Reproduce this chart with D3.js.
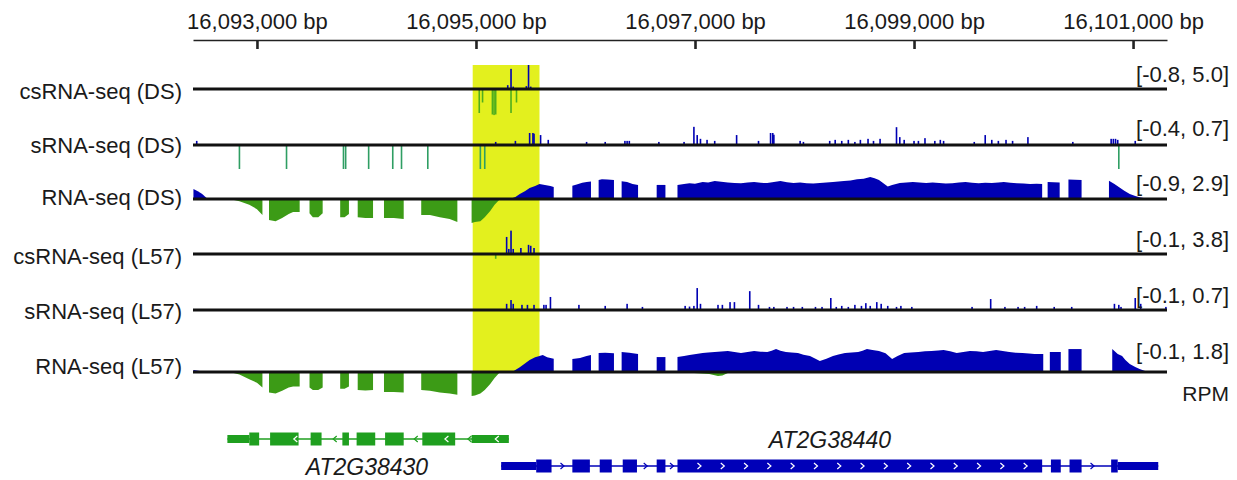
<!DOCTYPE html>
<html>
<head>
<meta charset="utf-8">
<script src="https://cdn.jsdelivr.net/npm/d3@7"></script>
<style>
body { margin: 0; background: #fff; }
text { font-family: "Liberation Sans", Arial, Helvetica, sans-serif; fill: #1a1a1a; }
</style>
</head>
<body>
<script>
// ---- data ----
var trackNames = ["csRNA-seq (DS)", "sRNA-seq (DS)", "RNA-seq (DS)", "csRNA-seq (L57)", "sRNA-seq (L57)", "RNA-seq (L57)"];
var trackRanges = [[-0.8, 5.0], [-0.4, 0.7], [-0.9, 2.9], [-0.1, 3.8], [-0.1, 0.7], [-0.1, 1.8]];
var tickValues = [16093000, 16095000, 16097000, 16099000, 16101000];
var highlight = [16094970, 16095580];

// spike tracks: [position, RPM]
var csDSplus = [[16095290, 0.8], [16095320, 4.2], [16095340, 0.5], [16095460, 0.6], [16095480, 5.0], [16095500, 0.5]];
var csDSminus = [[16095030, -0.8], [16095060, -0.45], [16095150, -0.85], [16095165, -0.87], [16095180, -0.85], [16095320, -0.8], [16095370, -0.45]];

var sDSplus = [[16092450, 0.12], [16095180, 0.09], [16095360, 0.12], [16095490, 0.35], [16095520, 0.35], [16095530, 0.33],
  [16095590, 0.29], [16095660, 0.15], [16096010, 0.09], [16096180, 0.09], [16096360, 0.12], [16096380, 0.12], [16096400, 0.12],
  [16096670, 0.09], [16096900, 0.09], [16096990, 0.53], [16097020, 0.29], [16097050, 0.18], [16097110, 0.15], [16097180, 0.12],
  [16097380, 0.29], [16097580, 0.12], [16097690, 0.35], [16097710, 0.35], [16097720, 0.3], [16097960, 0.12], [16097990, 0.09],
  [16098230, 0.12], [16098280, 0.15], [16098340, 0.12], [16098400, 0.15], [16098460, 0.09], [16098510, 0.15], [16098580, 0.18],
  [16098630, 0.12], [16098690, 0.18], [16098840, 0.52], [16098870, 0.23], [16098910, 0.15], [16099000, 0.12], [16099040, 0.12],
  [16099100, 0.2], [16099190, 0.12], [16099240, 0.15], [16099270, 0.12], [16099550, 0.09], [16099650, 0.29], [16099710, 0.15],
  [16099770, 0.12], [16099840, 0.15], [16099900, 0.12], [16100040, 0.23], [16100450, 0.09], [16100800, 0.18], [16100820, 0.18],
  [16100840, 0.18], [16100860, 0.15], [16101020, 0.12]];
var sDSminus = [[16092840, -0.4], [16093270, -0.4], [16093790, -0.4], [16093810, -0.4], [16094020, -0.4], [16094240, -0.4],
  [16094320, -0.4], [16094560, -0.4], [16095040, -0.4], [16095080, -0.4], [16100870, -0.4]];

var csL57plus = [[16095280, 2.7], [16095300, 0.8], [16095320, 3.7], [16095340, 0.8], [16095410, 0.95], [16095480, 1.45],
  [16095500, 1.3], [16095530, 0.95]];
var csL57minus = [[16095180, -0.02]];

var sL57plus = [[16095280, 0.18], [16095320, 0.29], [16095340, 0.18], [16095420, 0.15], [16095470, 0.15], [16095530, 0.15],
  [16095620, 0.15], [16095640, 0.15], [16095680, 0.38], [16095940, 0.15], [16096180, 0.12], [16096380, 0.18], [16096520, 0.09],
  [16096910, 0.12], [16096950, 0.1], [16096990, 0.12], [16097020, 0.64], [16097050, 0.18], [16097210, 0.15], [16097250, 0.15],
  [16097320, 0.23], [16097360, 0.23], [16097500, 0.55], [16097580, 0.15], [16097680, 0.09], [16097720, 0.09], [16097840, 0.09],
  [16097900, 0.09], [16097980, 0.09], [16098100, 0.09], [16098160, 0.09], [16098240, 0.35], [16098290, 0.09], [16098340, 0.12],
  [16098400, 0.09], [16098460, 0.15], [16098520, 0.12], [16098560, 0.2], [16098600, 0.12], [16098660, 0.23], [16098700, 0.18],
  [16098760, 0.12], [16098840, 0.09], [16098880, 0.12], [16098980, 0.09], [16099530, 0.09], [16099700, 0.32], [16099830, 0.09],
  [16099950, 0.09], [16100010, 0.09], [16100120, 0.12], [16100280, 0.09], [16100440, 0.09], [16100830, 0.18], [16100870, 0.15],
  [16100890, 0.09], [16101020, 0.35], [16101070, 0.18], [16101300, 0.09]];

// coverage tracks: blocks of [position, RPM]
var rnaDSplus = [
  [[16092420, 1.2], [16092460, 0.95], [16092500, 0.6], [16092550, 0]],
  [[16095310, 0], [16095360, 0.24], [16095400, 0.6], [16095450, 0.97], [16095490, 1.33], [16095540, 1.57], [16095580, 1.81],
   [16095630, 1.69], [16095680, 1.57], [16095710, 1.45]],
  [[16095880, 1.6], [16095920, 1.75], [16095970, 1.95], [16096010, 2.05], [16096050, 2.1]],
  [[16096120, 2.3], [16096150, 2.4], [16096200, 2.35], [16096260, 2.3]],
  [[16096330, 2.15], [16096380, 2.05], [16096430, 1.8], [16096480, 1.7]],
  [[16096650, 1.7], [16096730, 1.7]],
  [[16096840, 1.69], [16096900, 1.8], [16096950, 1.9], [16097000, 1.85], [16097070, 2.05], [16097120, 1.98], [16097180, 2.17],
   [16097240, 2.08], [16097300, 2.0], [16097360, 1.92], [16097420, 1.9], [16097480, 2.0], [16097540, 2.05], [16097600, 1.95],
   [16097660, 1.93], [16097720, 2.05], [16097780, 2.17], [16097840, 2.02], [16097900, 1.93], [16097960, 1.98], [16098020, 1.9],
   [16098080, 1.86], [16098140, 1.93], [16098200, 2.0], [16098260, 2.05], [16098310, 2.1], [16098360, 2.17], [16098420, 2.25],
   [16098480, 2.38], [16098540, 2.45], [16098600, 2.66], [16098640, 2.5], [16098680, 2.3], [16098720, 1.9], [16098760, 1.5],
   [16098800, 1.7], [16098870, 1.93], [16098930, 1.98], [16098990, 2.05], [16099050, 2.0], [16099110, 1.93], [16099170, 1.98],
   [16099230, 1.93], [16099290, 1.88], [16099350, 1.9], [16099410, 1.98], [16099470, 2.05], [16099530, 1.95], [16099590, 1.9],
   [16099650, 1.96], [16099710, 1.93], [16099770, 2.0], [16099820, 2.05], [16099880, 1.95], [16099940, 1.9], [16100000, 1.86],
   [16100060, 1.81], [16100120, 1.85], [16100170, 1.81]],
  [[16100220, 2.05], [16100330, 2.0]],
  [[16100410, 2.35], [16100530, 2.3]],
  [[16100780, 2.2], [16100830, 1.8], [16100880, 1.35], [16100920, 1.0], [16100970, 0.6], [16101020, 0.35], [16101060, 0.2],
   [16101110, 0.1], [16101150, 0]]
];
var rnaDSminus = [
  [[16092750, 0], [16092840, -0.08], [16092930, -0.22], [16093000, -0.38], [16093050, -0.6]],
  [[16093110, -0.79], [16093170, -0.83], [16093230, -0.71], [16093290, -0.56], [16093330, -0.49], [16093390, -0.49]],
  [[16093480, -0.53], [16093510, -0.68], [16093560, -0.68], [16093600, -0.53]],
  [[16093760, -0.68], [16093800, -0.68], [16093840, -0.56]],
  [[16093920, -0.68], [16093990, -0.71], [16094060, -0.71]],
  [[16094160, -0.71], [16094250, -0.71], [16094340, -0.75]],
  [[16094500, -0.6], [16094580, -0.6], [16094670, -0.68], [16094760, -0.75], [16094830, -0.86]],
  [[16094960, -0.9], [16094990, -0.86], [16095040, -0.83], [16095080, -0.68], [16095130, -0.45], [16095170, -0.22], [16095220, 0]]
];

var rnaL57plus = [
  [[16092420, 0.15], [16092480, 0.08], [16092520, 0]],
  [[16095330, 0], [16095400, 0.35], [16095450, 0.65], [16095490, 0.9], [16095540, 1.1], [16095580, 1.2], [16095610, 1.28],
   [16095650, 1.1], [16095710, 1.0]],
  [[16095880, 0.98], [16095950, 1.05], [16096010, 1.2], [16096050, 1.28]],
  [[16096120, 1.42], [16096180, 1.45], [16096260, 1.4]],
  [[16096330, 1.5], [16096400, 1.45], [16096480, 1.35]],
  [[16096650, 1.12], [16096730, 1.12]],
  [[16096840, 1.12], [16096900, 1.2], [16096950, 1.28], [16097010, 1.35], [16097070, 1.42], [16097120, 1.46], [16097180, 1.5],
   [16097240, 1.54], [16097300, 1.58], [16097360, 1.5], [16097420, 1.42], [16097480, 1.5], [16097540, 1.58], [16097600, 1.52],
   [16097660, 1.5], [16097700, 1.6], [16097740, 1.72], [16097780, 1.6], [16097830, 1.5], [16097880, 1.46], [16097940, 1.42],
   [16097990, 1.3], [16098050, 1.2], [16098100, 1.0], [16098140, 0.82], [16098200, 1.0], [16098260, 1.2], [16098310, 1.32],
   [16098370, 1.42], [16098430, 1.46], [16098490, 1.5], [16098530, 1.6], [16098570, 1.72], [16098620, 1.65], [16098680, 1.58],
   [16098740, 1.4], [16098800, 0.98], [16098850, 1.2], [16098910, 1.42], [16098970, 1.46], [16099040, 1.5], [16099100, 1.55],
   [16099160, 1.58], [16099220, 1.62], [16099270, 1.65], [16099330, 1.55], [16099390, 1.42], [16099450, 1.5], [16099510, 1.58],
   [16099570, 1.55], [16099630, 1.5], [16099690, 1.58], [16099750, 1.65], [16099810, 1.58], [16099870, 1.5], [16099930, 1.45],
   [16099990, 1.42], [16100050, 1.38], [16100100, 1.35], [16100180, 1.35]],
  [[16100240, 1.5], [16100340, 1.5]],
  [[16100410, 1.72], [16100530, 1.72]],
  [[16100810, 1.72], [16100860, 1.35], [16100900, 1.2], [16100930, 0.9], [16100970, 0.6], [16101020, 0.38], [16101060, 0.22],
   [16101110, 0.08], [16101150, 0]]
];
var rnaL57minus = [
  [[16092750, 0], [16092840, -0.01], [16092930, -0.03], [16093000, -0.045], [16093050, -0.065]],
  [[16093110, -0.085], [16093170, -0.09], [16093230, -0.078], [16093290, -0.065], [16093330, -0.06], [16093390, -0.06]],
  [[16093480, -0.065], [16093510, -0.075], [16093560, -0.075], [16093600, -0.065]],
  [[16093760, -0.07], [16093800, -0.07], [16093840, -0.06]],
  [[16093920, -0.075], [16093990, -0.077], [16094060, -0.075]],
  [[16094160, -0.083], [16094250, -0.083], [16094340, -0.085]],
  [[16094500, -0.075], [16094580, -0.078], [16094670, -0.085], [16094760, -0.09], [16094830, -0.095]],
  [[16094960, -0.1], [16094990, -0.098], [16095040, -0.09], [16095080, -0.075], [16095130, -0.05], [16095170, -0.025], [16095220, 0]],
  [[16096990, -0.004], [16097130, -0.008], [16097210, -0.017], [16097250, -0.015], [16097300, -0.004]]
];

// gene models: [start, end, kind]
var gene38430 = [[16092730, 16092930, "utr"], [16092930, 16093020, "cds"], [16093120, 16093380, "cds"], [16093490, 16093590, "cds"],
  [16093780, 16093840, "cds"], [16093910, 16094080, "cds"], [16094170, 16094340, "cds"], [16094510, 16094810, "cds"],
  [16094960, 16095300, "utr"]];
var gene38440 = [[16095230, 16095550, "utr"], [16095550, 16095690, "cds"], [16095880, 16096040, "cds"], [16096130, 16096240, "cds"],
  [16096340, 16096470, "cds"], [16096650, 16096730, "cds"], [16096840, 16100170, "cds"], [16100250, 16100340, "cds"],
  [16100420, 16100530, "cds"], [16100800, 16100860, "cds"], [16100860, 16101230, "utr"]];
var arrows38430 = [16093350, 16093710, 16094450, 16094730, 16094940, 16095190];
var arrows38440 = [16095790, 16096550, 16096790, 16100630];

// ---- chart ----
var svgWidth = 1237;
var svgHeight = 480;
var blue = "#0000b3";
var baselines = [89, 145, 199, 254, 310, 372];
var labelY = [91, 145, 197, 256, 311, 366];
var rangeY = [74, 128, 183, 239, 295, 351];
var half = 24;

var svg = d3.select("body").append("svg")
  .attr("width", svgWidth)
  .attr("height", svgHeight);

var x = d3.scaleLinear().domain([16092416, 16101310]).range([193, 1167]);

// highlight box
svg.append("rect")
  .attr("x", x(highlight[0]))
  .attr("width", x(highlight[1]) - x(highlight[0]))
  .attr("y", baselines[0] - half)
  .attr("height", baselines[5] - baselines[0] + half)
  .attr("fill", "#e3f01e");

// ruler on top
var axis = d3.axisTop(x)
  .tickValues(tickValues)
  .tickSizeInner(-9)
  .tickSizeOuter(0)
  .tickPadding(11)
  .tickFormat(d => d3.format(",")(d) + " bp");
var axisG = svg.append("g").attr("transform", "translate(0,40)").call(axis);
axisG.select(".domain").attr("stroke", "#222").attr("stroke-width", 1.6);
axisG.selectAll(".tick line").attr("stroke", "#222").attr("stroke-width", 2.6);
axisG.selectAll(".tick text").attr("font-size", 22).attr("fill", "#1a1a1a")
  .style("font-family", '"Liberation Sans", Arial, sans-serif');

function yFor(i) {
  var r = trackRanges[i];
  return d3.scaleLinear().domain([r[0], 0, r[1]]).range([baselines[i] + half, baselines[i], baselines[i] - half]);
}

function drawSpikes(i, data, color) {
  var y = yFor(i);
  svg.append("g").selectAll("rect").data(data).enter().append("rect")
    .attr("x", d => x(d[0]) - 0.8)
    .attr("width", 1.6)
    .attr("y", d => Math.min(y(d[1]), y(0)))
    .attr("height", d => Math.abs(y(d[1]) - y(0)))
    .attr("fill", color);
}

function drawBlocks(i, blocks, color) {
  var y = yFor(i);
  var area = d3.area()
    .x(d => x(d[0]))
    .y0(y(0))
    .y1(d => y(d[1]));
  svg.append("g").selectAll("path").data(blocks).enter().append("path")
    .attr("d", area)
    .attr("fill", color);
}

drawSpikes(0, csDSplus, blue);
drawSpikes(0, csDSminus, "#4fae1e");
drawSpikes(1, sDSplus, blue);
drawSpikes(1, sDSminus, "#2f9e63");
drawBlocks(2, rnaDSplus, blue);
drawBlocks(2, rnaDSminus, "#3c9b16");
drawSpikes(3, csL57plus, blue);
drawSpikes(3, csL57minus, "#4fae1e");
drawSpikes(4, sL57plus, blue);
drawBlocks(5, rnaL57plus, blue);
drawBlocks(5, rnaL57minus, "#3c9b16");

// baselines, labels
trackNames.forEach(function(name, i) {
  svg.append("line")
    .attr("x1", 193).attr("x2", 1167)
    .attr("y1", baselines[i]).attr("y2", baselines[i])
    .attr("stroke", "#111").attr("stroke-width", 2.8);
  svg.append("text")
    .attr("x", 182).attr("y", labelY[i])
    .attr("text-anchor", "end")
    .attr("dominant-baseline", "central")
    .attr("font-size", 22)
    .text(name);
  svg.append("text")
    .attr("x", 1229).attr("y", rangeY[i])
    .attr("text-anchor", "end")
    .attr("dominant-baseline", "central")
    .attr("font-size", 22)
    .text("[" + trackRanges[i][0].toFixed(1) + ", " + trackRanges[i][1].toFixed(1) + "]");
});

svg.append("text")
  .attr("x", 1229).attr("y", 393)
  .attr("text-anchor", "end")
  .attr("dominant-baseline", "central")
  .attr("font-size", 21)
  .text("RPM");

// gene models
function drawGene(exons, arrows, cy, color, dir, name, lx, ly) {
  var g = svg.append("g");
  var s = d3.min(exons, d => d[0]);
  var e = d3.max(exons, d => d[1]);
  g.append("line").attr("x1", x(s)).attr("x2", x(e)).attr("y1", cy).attr("y2", cy)
    .attr("stroke", color).attr("stroke-width", 1.3);
  g.selectAll("rect").data(exons).enter().append("rect")
    .attr("x", d => x(d[0]))
    .attr("width", d => x(d[1]) - x(d[0]))
    .attr("y", d => d[2] == "cds" ? cy - 6.5 : cy - 4)
    .attr("height", d => d[2] == "cds" ? 13 : 8)
    .attr("fill", color);
  var chev = dir > 0 ? "M-2,-3L1.5,0L-2,3" : "M2,-3L-1.5,0L2,3";
  // arrows along introns / exons
  var marks = arrows.map(p => x(p));
  exons.forEach(function(d) {
    var w = x(d[1]) - x(d[0]);
    if (w > 200) {
      for (var px = x(d[0]) + 22; px < x(d[1]) - 10; px += 23.3) marks.push(px);
    }
  });
  marks.forEach(function(px) {
    var inside = exons.some(d => px > x(d[0]) + 1 && px < x(d[1]) - 1);
    g.append("path").attr("d", chev)
      .attr("transform", "translate(" + px + "," + cy + ")")
      .attr("fill", "none")
      .attr("stroke", inside ? "#fff" : color)
      .attr("stroke-width", 1.2);
  });
  svg.append("text")
    .attr("x", lx).attr("y", ly)
    .attr("text-anchor", "middle")
    .attr("dominant-baseline", "central")
    .attr("font-size", 23)
    .attr("font-style", "italic")
    .text(name);
}

drawGene(gene38430, arrows38430, 439, "#1f9f1f", -1, "AT2G38430", 367, 467);
drawGene(gene38440, arrows38440, 466, "#0000b8", 1, "AT2G38440", 830, 440);
</script>
</body>
</html>
